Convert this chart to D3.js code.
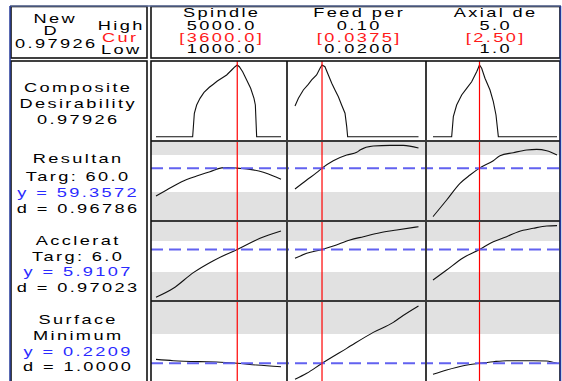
<!DOCTYPE html>
<html>
<head>
<meta charset="utf-8">
<script src="https://cdn.jsdelivr.net/npm/d3@7"></script>
<style>
  html, body { margin: 0; padding: 0; background: #fff; }
  svg { display: block; }
  text { font-family: "Liberation Sans", Arial, sans-serif; font-size: 13px; letter-spacing: 1.7px; }
</style>
</head>
<body>
<svg id="chart" width="562" height="381"></svg>
<script>
// ---- factors ----
const factorNames = ["Spindle", "Feed per", "Axial de"];
const factorHighLabels = ["5000.0", "0.10", "5.0"];
const factorCurLabels = ["[3600.0]", "[0.0375]", "[2.50]"];
const factorLowLabels = ["1000.0", "0.0200", "1.0"];
const factorLow = [1000, 0.02, 1];
const factorHigh = [5000, 0.10, 5];
const factorCur = [3600, 0.0375, 2.5];

// ---- header / response labels ----
const compositeD = 0.97926;
const rowLabels = [
  [{t: "Composite", c: "#000"}, {t: "Desirability", c: "#000"}, {t: "0.97926", c: "#000"}],
  [{t: "Resultan", c: "#000"}, {t: "Targ: 60.0", c: "#000"}, {t: "y = 59.3572", c: "#2b2bff"}, {t: "d = 0.96786", c: "#000"}],
  [{t: "Acclerat", c: "#000"}, {t: "Targ: 6.0", c: "#000"}, {t: "y = 5.9107", c: "#2b2bff"}, {t: "d = 0.97023", c: "#000"}],
  [{t: "Surface", c: "#000"}, {t: "Minimum", c: "#000"}, {t: "y = 0.2209", c: "#2b2bff"}, {t: "d = 1.0000", c: "#000"}]
];

// ---- current predicted responses ----
const currentY = [compositeD, 59.3572, 5.9107, 0.2209];
// acceptable ranges (shaded outside, d = 0)
const resultanLimits = [40, 70];
const accleratLimits = [3, 7];
const surfaceUpper = 0.4;
// vertical extent of each row's axis
const rowDomains = [[-0.059, 1.034], [16.49, 81.35], [-0.742, 9.581], [0.1127, 0.602]];

// ---- composite desirability traces ----
const compositeSpindle = [[1000,0],[2173,0],[2227,0.320],[2301,0.433],[2408,0.524],[2536,0.606],[2707,0.675],[2835,0.716],[2963,0.761],[3101,0.798],[3261,0.843],[3421,0.911],[3528,0.956],[3600,0.979],[3667,0.956],[3773,0.888],[3901,0.775],[4029,0.661],[4136,0.524],[4179,0.433],[4221,0],[5000,0]];
const compositeFeed = [[0.0200,0.419],[0.0222,0.524],[0.0254,0.638],[0.0286,0.716],[0.0308,0.775],[0.0340,0.843],[0.0362,0.934],[0.0375,0.979],[0.0394,0.956],[0.0416,0.843],[0.0438,0.729],[0.0459,0.638],[0.0481,0.546],[0.0502,0.433],[0.0524,0.320],[0.0535,0.137],[0.0541,0],[0.10,0]];
const compositeAxial = [[1.0,0],[1.602,0],[1.656,0.273],[1.763,0.433],[1.925,0.570],[2.086,0.661],[2.247,0.751],[2.409,0.888],[2.5,0.979],[2.570,0.934],[2.677,0.798],[2.839,0.638],[2.946,0.478],[3.032,0.296],[3.108,0],[5.0,0]];

// ---- Resultan traces ----
const resultanSpindle = [[1000,36.76],[1341,41.62],[1821,48.38],[2301,52.97],[2728,56.49],[3101,59.55],[3300,59.8],[3475,59.7],[3600,59.3572],[4008,58.38],[4435,55.95],[4755,52.97],[5000,50.27]];
const resultanFeed = [[0.0200,42.43],[0.0276,49.73],[0.0340,55.68],[0.0375,59.3572],[0.0448,65.40],[0.0535,70.0],[0.0600,72.16],[0.0621,74.05],[0.0707,77.30],[0.0815,77.84],[0.0902,77.84],[0.10,75.68]];
const resultanAxial = [[1.0,20.0],[1.441,33.51],[1.871,47.03],[2.194,53.78],[2.5,59.3572],[2.946,65.40],[3.161,69.46],[3.591,71.89],[4.022,74.05],[4.344,74.59],[4.667,73.51],[5.0,70.0]];

// ---- Acclerat traces ----
const accleratSpindle = [[1000,-0.27],[1555,0.893],[2195,2.914],[2835,4.462],[3600,5.9107],[4328,7.344],[5000,8.29]];
const accleratFeed = [[0.0200,4.763],[0.0276,5.409],[0.0375,5.9107],[0.0448,6.355],[0.0556,7.129],[0.0643,7.559],[0.0751,8.075],[0.0859,8.419],[0.10,8.849]];
const accleratAxial = [[1.0,1.968],[1.441,3.258],[1.978,4.849],[2.5,5.9107],[2.946,6.914],[3.376,7.559],[3.753,8.204],[4.237,8.635],[4.667,8.935],[5.0,8.978]];

// ---- Surface traces ----
const surfaceSpindle = [[1000,0.2451],[1555,0.2370],[2408,0.2309],[2941,0.2289],[3600,0.2209],[4221,0.2105],[5000,0.2003]];
const surfaceFeed = [[0.0200,0.1229],[0.0276,0.1596],[0.0375,0.2209],[0.0535,0.3124],[0.0707,0.4102],[0.0837,0.4713],[0.0880,0.4998],[0.10,0.5711]];
const surfaceAxial = [[1.0,0.1535],[1.441,0.1800],[1.978,0.2064],[2.5,0.2209],[2.946,0.2309],[3.376,0.2370],[4.237,0.2370],[4.667,0.2350],[5.0,0.2207]];

const traces = [
  [compositeSpindle, compositeFeed, compositeAxial],
  [resultanSpindle, resultanFeed, resultanAxial],
  [accleratSpindle, accleratFeed, accleratAxial],
  [surfaceSpindle, surfaceFeed, surfaceAxial]
];

// ---- layout ----
const SX = 1.4;                // horizontal stretch of the lettering
const plotLeft = 151, plotRight = 560;
const panelEdges = [151, 287, 426, 560];
const panelRanges = [[156, 281], [295, 418.5], [433, 557]];
const rowEdges = [61, 141, 221, 301, 381];
const labelLeft = 11, labelRight = 147;

const svg = d3.select("#chart");

const xScales = factorNames.map((_, i) =>
  d3.scaleLinear().domain([factorLow[i], factorHigh[i]]).range(panelRanges[i]));
const yScales = rowDomains.map((dom, r) =>
  d3.scaleLinear().domain(dom).range([rowEdges[r + 1], rowEdges[r]]));

// centred text; the trailing letter-space is compensated so the ink is centred
function txt(parent, x, y, s, color) {
  return parent.append("text")
    .attr("transform", `translate(${x + 1.2},${y}) scale(${SX},1)`)
    .attr("text-anchor", "middle")
    .attr("fill", color || "#000")
    .text(s);
}

// shaded regions where the response desirability is zero
const bands = svg.append("g");
function band(r, v0, v1) {
  const y0 = yScales[r](v0), y1 = yScales[r](v1);
  bands.append("rect")
    .attr("x", plotLeft).attr("width", plotRight - plotLeft)
    .attr("y", Math.min(y0, y1)).attr("height", Math.abs(y1 - y0))
    .attr("fill", "#e1e1e1");
}
band(1, rowDomains[1][1], resultanLimits[1]);
band(1, resultanLimits[0], rowDomains[1][0]);
band(2, rowDomains[2][1], accleratLimits[1]);
band(2, accleratLimits[0], rowDomains[2][0]);
band(3, rowDomains[3][1], surfaceUpper);

// traces
const curves = svg.append("g");
traces.forEach((row, r) => {
  row.forEach((pts, c) => {
    const line = d3.line()
      .x(d => xScales[c](d[0]))
      .y(d => yScales[r](d[1]))
      .curve(r === 0 ? d3.curveLinear : d3.curveMonotoneX);
    curves.append("path")
      .attr("d", line(pts))
      .attr("fill", "none")
      .attr("stroke", "#111")
      .attr("stroke-width", 1.1);
  });
});

// current response levels
const refs = svg.append("g");
[1, 2, 3].forEach(r => {
  refs.append("line")
    .attr("x1", plotLeft).attr("x2", plotRight)
    .attr("y1", yScales[r](currentY[r])).attr("y2", yScales[r](currentY[r]))
    .attr("stroke", "#6262f0").attr("stroke-width", 2)
    .attr("stroke-dasharray", "12,6");
});

// current factor settings
factorCur.forEach((v, i) => {
  refs.append("line")
    .attr("x1", xScales[i](v)).attr("x2", xScales[i](v))
    .attr("y1", rowEdges[0]).attr("y2", rowEdges[4] + 5)
    .attr("stroke", "#ff0000").attr("stroke-width", 1.2);
});

// grid of panels
const grid = svg.append("g").attr("fill", "none");
[1, 2, 3].forEach(r => {
  grid.append("line")
    .attr("x1", plotLeft).attr("x2", plotRight)
    .attr("y1", rowEdges[r]).attr("y2", rowEdges[r])
    .attr("stroke", "#3a3a3a").attr("stroke-width", 2);
});
[1, 2].forEach(c => {
  grid.append("line")
    .attr("x1", panelEdges[c]).attr("x2", panelEdges[c])
    .attr("y1", rowEdges[0]).attr("y2", rowEdges[4] + 5)
    .attr("stroke", "#3a3a3a").attr("stroke-width", 2);
});
grid.append("rect")
  .attr("x", plotLeft).attr("y", rowEdges[0])
  .attr("width", plotRight - plotLeft).attr("height", 340)
  .attr("stroke", "#111").attr("stroke-width", 1.6);
grid.append("rect")
  .attr("x", labelLeft).attr("y", rowEdges[0])
  .attr("width", labelRight - labelLeft).attr("height", 340)
  .attr("stroke", "#111").attr("stroke-width", 1.6);

// header boxes
grid.append("rect")
  .attr("x", labelLeft).attr("y", 6.5)
  .attr("width", labelRight - labelLeft).attr("height", 51.5)
  .attr("stroke", "#111").attr("stroke-width", 1.6);
grid.append("rect")
  .attr("x", plotLeft).attr("y", 6.5)
  .attr("width", plotRight - plotLeft).attr("height", 51.5)
  .attr("stroke", "#111").attr("stroke-width", 1.6);

// outer frame
const frame = svg.append("g");
frame.append("line").attr("x1", 10).attr("x2", 561).attr("y1", 6).attr("y2", 6)
  .attr("stroke", "#5d6d98").attr("stroke-width", 1.5);
frame.append("line").attr("x1", 10).attr("x2", 10).attr("y1", 6).attr("y2", 381)
  .attr("stroke", "#23399a").attr("stroke-width", 1.5);
frame.append("line").attr("x1", 560.5).attr("x2", 560.5).attr("y1", 6).attr("y2", 381)
  .attr("stroke", "#23399a").attr("stroke-width", 1.5);

// header text
const head = svg.append("g");
txt(head, 54, 22.5, "New");
txt(head, 50, 35, "D");
txt(head, 55, 47.5, d3.format(".5f")(compositeD));
txt(head, 120, 30, "High");
txt(head, 119, 41.5, "Cur", "#ff1a1a");
txt(head, 120, 53.5, "Low");
factorNames.forEach((name, i) => {
  const cx = (panelEdges[i] + panelEdges[i + 1]) / 2 + 1.5;
  txt(head, cx, 17.3, name);
  txt(head, cx, 29.8, factorHighLabels[i]);
  txt(head, cx, 41.7, factorCurLabels[i], "#ff1a1a");
  txt(head, cx, 53.3, factorLowLabels[i]);
});

// row labels
const rowBaselines = [[91.7, 108.2, 123.5], [162.7, 180.7, 196.7, 212.7], [245, 260.7, 276.2, 291.7], [324.3, 340, 355.5, 371]];
const labels = svg.append("g");
rowLabels.forEach((lines, r) => {
  lines.forEach((ln, k) => txt(labels, 77, rowBaselines[r][k], ln.t, ln.c));
});
</script>
</body>
</html>
